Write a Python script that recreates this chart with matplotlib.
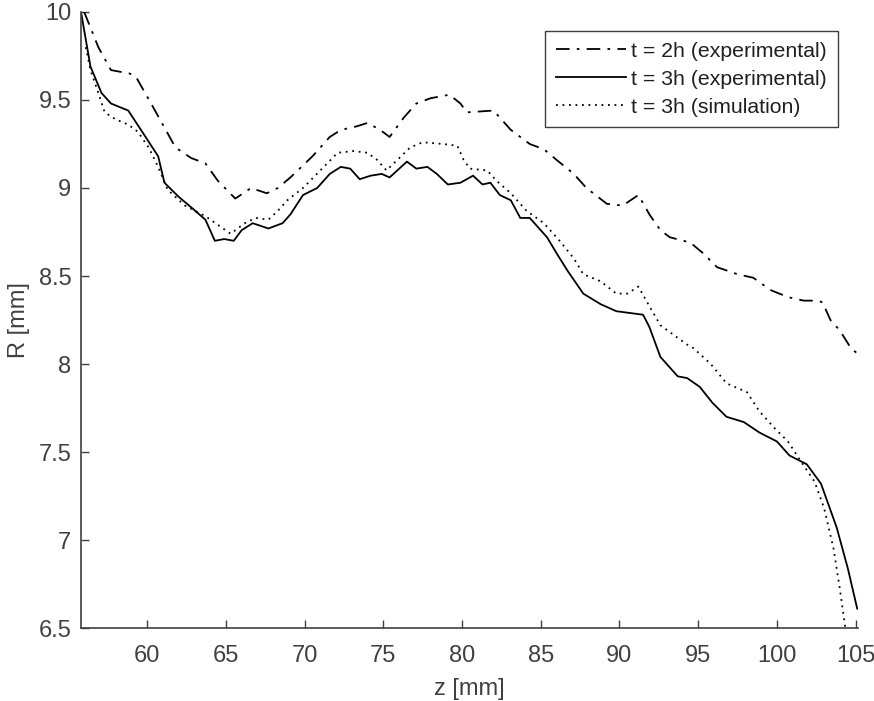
import matplotlib
matplotlib.use("Agg")
import matplotlib.pyplot as plt

# t = 2h (experimental)
z_2h = [56.0, 56.9, 57.7, 58.9, 59.3, 60.5, 61.8, 62.8, 63.7, 64.5, 65.6, 66.6, 67.6, 68.3,
        69.1, 70.5, 71.6, 72.3, 73.3, 74.0, 74.8, 75.4, 76.3, 77.1, 78.0, 79.2, 79.9, 80.3,
        82.0, 83.1, 84.3, 85.2, 86.0, 87.1, 87.9, 89.2, 90.2, 91.2, 91.9, 92.6, 93.2, 94.5,
        95.3, 96.2, 97.5, 98.5, 99.6, 100.7, 101.7, 102.6, 102.9, 103.4, 104.0, 104.7, 105.1]
r_2h = [10.0, 9.80, 9.67, 9.65, 9.63, 9.44, 9.23, 9.17, 9.14, 9.04, 8.94, 9.00, 8.97, 9.00,
        9.06, 9.18, 9.29, 9.33, 9.35, 9.37, 9.33, 9.29, 9.40, 9.48, 9.51, 9.53, 9.48, 9.43,
        9.44, 9.33, 9.25, 9.22, 9.16, 9.08, 9.00, 8.91, 8.90, 8.96, 8.85, 8.76, 8.72, 8.69,
        8.63, 8.55, 8.51, 8.49, 8.42, 8.38, 8.36, 8.36, 8.35, 8.25, 8.19, 8.09, 8.06]

# t = 3h (experimental)
z_3h = [55.8, 56.4, 57.1, 57.7, 58.8, 59.9, 60.7, 61.1, 62.0, 62.8, 63.7, 64.3, 64.9, 65.5,
        66.0, 66.7, 67.7, 68.6, 69.1, 69.9, 70.8, 71.6, 72.3, 72.9, 73.5, 74.2, 74.9, 75.4,
        76.5, 77.1, 77.8, 78.4, 79.1, 79.9, 80.7, 81.3, 81.8, 82.4, 83.1, 83.7, 84.3, 85.4,
        86.0, 86.7, 87.7, 88.8, 89.8, 91.5, 91.9, 92.6, 93.7, 94.3, 95.1, 95.9, 96.8, 97.9,
        98.9, 100.0, 100.8, 101.9, 102.8, 103.8, 104.5, 105.1]
r_3h = [10.0, 9.69, 9.54, 9.48, 9.44, 9.29, 9.18, 9.03, 8.95, 8.89, 8.82, 8.70, 8.71, 8.70,
        8.76, 8.80, 8.77, 8.80, 8.85, 8.96, 9.00, 9.08, 9.12, 9.11, 9.05, 9.07, 9.08, 9.06,
        9.15, 9.11, 9.12, 9.08, 9.02, 9.03, 9.07, 9.02, 9.03, 8.96, 8.93, 8.83, 8.83, 8.72,
        8.63, 8.53, 8.40, 8.34, 8.30, 8.28, 8.21, 8.04, 7.93, 7.92, 7.87, 7.78, 7.70, 7.67,
        7.61, 7.56, 7.48, 7.43, 7.32, 7.07, 6.84, 6.61]

# t = 3h (simulation)
z_sim = [56.1, 56.4, 56.9, 57.3, 58.0, 58.8, 59.4, 60.1, 60.7, 61.3, 62.4, 63.7, 64.5, 65.3,
         66.2, 66.9, 67.7, 68.3, 68.9, 69.9, 71.0, 72.1, 73.1, 74.0, 74.6, 75.2, 75.9, 76.7,
         77.5, 78.8, 79.7, 80.1, 80.5, 81.6, 82.2, 83.1, 84.1, 85.2, 86.2, 87.1, 87.7, 88.8,
         89.8, 90.5, 91.2, 91.7, 92.6, 94.3, 94.7, 95.8, 96.8, 98.1, 98.9, 99.8, 100.7, 101.5,
         102.4, 103.0, 103.6, 104.0, 104.3, 104.4]
r_sim = [9.80, 9.67, 9.54, 9.43, 9.39, 9.36, 9.32, 9.23, 9.12, 8.99, 8.90, 8.84, 8.79, 8.74,
         8.80, 8.83, 8.82, 8.87, 8.93, 9.00, 9.10, 9.20, 9.21, 9.20, 9.16, 9.10, 9.16, 9.23,
         9.26, 9.25, 9.24, 9.16, 9.11, 9.10, 9.04, 8.97, 8.87, 8.80, 8.70, 8.60, 8.51, 8.47,
         8.40, 8.40, 8.44, 8.36, 8.22, 8.11, 8.09, 8.00, 7.89, 7.84, 7.73, 7.64, 7.56, 7.45,
         7.33, 7.18, 6.95, 6.72, 6.53, 6.45]

xticks = [60, 65, 70, 75, 80, 85, 90, 95, 100, 105]
yticks = [6.5, 7, 7.5, 8, 8.5, 9, 9.5, 10]
ytick_labels = ["6.5", "7", "7.5", "8", "8.5", "9", "9.5", "10"]

plt.rcParams['font.family'] = ['Liberation Sans', 'DejaVu Sans']
grey = "#404040"

fig = plt.figure(figsize=(8.74, 7.01), dpi=100)
ax = fig.add_axes([0.0927, 0.1041, 0.8890, 0.8788])

lw = 1.3
ax.plot(z_2h, r_2h, color="black", linewidth=lw, linestyle=(0, (7.5, 4, 1.5, 4)),
        label="t = 2h (experimental)")
ax.plot(z_3h, r_3h, color="black", linewidth=lw, linestyle="-",
        label="t = 3h (experimental)")
ax.plot(z_sim, r_sim, color="black", linewidth=lw, linestyle=(0, (1, 2.6)),
        label="t = 3h (simulation)")

ax.set_xlim(55.8, 105.15)
ax.set_ylim(6.5, 10)
ax.set_xticks(xticks)
ax.set_yticks(yticks)
ax.set_yticklabels(ytick_labels)

for s in ["top", "right"]:
    ax.spines[s].set_visible(False)
for s in ["left", "bottom"]:
    ax.spines[s].set_color(grey)
    ax.spines[s].set_linewidth(1.2)

ax.tick_params(direction="in", length=6, width=1, colors=grey, labelsize=17,
               labelcolor=grey)
ax.tick_params(axis="x", pad=12)
ax.tick_params(axis="y", pad=7)

ax.set_xlabel("z [mm]", fontsize=17, color=grey, labelpad=8)
ax.set_ylabel("R [mm]", fontsize=17, color=grey, labelpad=6)

leg = ax.legend(loc="upper right", bbox_to_anchor=(0.974, 0.969), fontsize=15.3,
                handlelength=3.3, handletextpad=0.25, borderpad=0.5, labelspacing=0.42,
                fancybox=False, framealpha=1, borderaxespad=0)
leg.get_frame().set_edgecolor(grey)
leg.get_frame().set_linewidth(1.0)
for t in leg.get_texts():
    t.set_color("#202020")

fig.savefig("out.png", dpi=100)
